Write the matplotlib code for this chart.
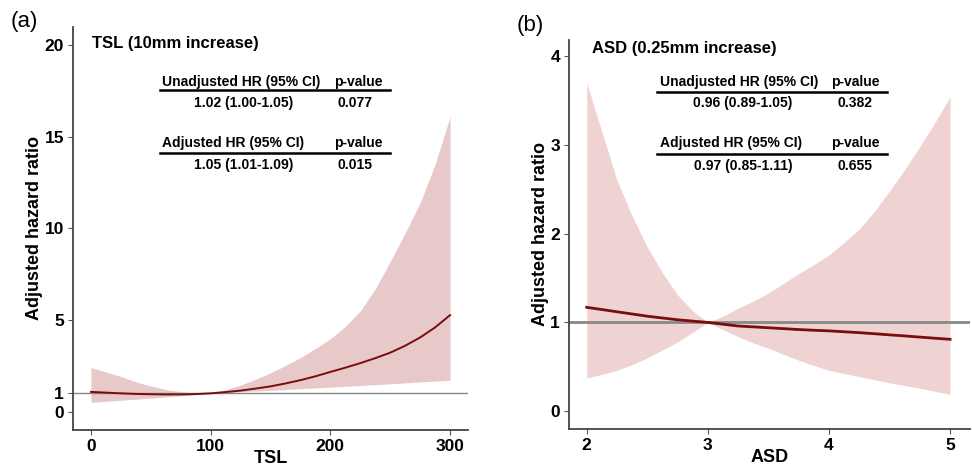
import matplotlib.pyplot as plt
from matplotlib.lines import Line2D

plt.rcParams['font.family'] = ['Liberation Sans', 'DejaVu Sans']

# TSL spline: hazard ratio and 95% CI
tsl_x = [0, 12.5, 25, 37.5, 50, 62.5, 75, 87.5, 100, 112.5, 125, 137.5, 150,
         162.5, 175, 187.5, 200, 212.5, 225, 237.5, 250, 262.5, 275, 287.5, 300]
tsl_hr = [1.08, 1.04, 1.0, 0.97, 0.95, 0.94, 0.94, 0.96, 1.0, 1.07, 1.15, 1.26, 1.38,
          1.54, 1.72, 1.93, 2.17, 2.4, 2.65, 2.92, 3.22, 3.6, 4.05, 4.6, 5.27]
tsl_upper = [2.41, 2.17, 1.92, 1.63, 1.40, 1.21, 1.09, 1.02, 1.0, 1.2, 1.45, 1.77, 2.12,
             2.52, 2.95, 3.45, 3.98, 4.65, 5.5, 6.7, 8.2, 9.75, 11.4, 13.5, 16.1]
tsl_lower = [0.51, 0.565, 0.62, 0.68, 0.74, 0.805, 0.87, 0.935, 1.0, 1.045, 1.09, 1.125, 1.16,
             1.205, 1.25, 1.295, 1.34, 1.385, 1.43, 1.475, 1.52, 1.57, 1.62, 1.67, 1.72]

# ASD spline: hazard ratio and 95% CI
asd_x = [2.0, 2.125, 2.25, 2.375, 2.5, 2.625, 2.75, 2.875, 3.0, 3.125, 3.25, 3.375, 3.5,
         3.625, 3.75, 3.875, 4.0, 4.125, 4.25, 4.375, 4.5, 4.625, 4.75, 4.875, 5.0]
asd_hr = [1.17, 1.145, 1.12, 1.095, 1.07, 1.05, 1.03, 1.015, 1.0, 0.98, 0.96, 0.95, 0.94,
          0.93, 0.92, 0.912, 0.905, 0.895, 0.885, 0.873, 0.86, 0.848, 0.835, 0.822, 0.81]
asd_upper = [3.70, 3.15, 2.60, 2.2, 1.85, 1.56, 1.31, 1.13, 1.0, 1.07, 1.16, 1.24, 1.33,
             1.44, 1.55, 1.65, 1.76, 1.9, 2.05, 2.25, 2.48, 2.72, 2.98, 3.25, 3.54]
asd_lower = [0.375, 0.415, 0.46, 0.525, 0.60, 0.69, 0.78, 0.89, 1.0, 0.92, 0.84, 0.77, 0.71,
             0.64, 0.575, 0.515, 0.46, 0.425, 0.39, 0.355, 0.32, 0.29, 0.26, 0.225, 0.19]

tsl_yticks = [0, 1, 5, 10, 15, 20]
asd_yticks = [0, 1, 2, 3, 4]

tsl_table = [("Unadjusted HR (95% CI)", "1.02 (1.00-1.05)", "0.077"),
             ("Adjusted HR (95% CI)", "1.05 (1.01-1.09)", "0.015")]
asd_table = [("Unadjusted HR (95% CI)", "0.96 (0.89-1.05)", "0.382"),
             ("Adjusted HR (95% CI)", "0.97 (0.85-1.11)", "0.655")]

fig = plt.figure(figsize=(9.72, 4.65), dpi=100)
ax1 = fig.add_axes([0.0751, 0.0753, 0.4064, 0.8667])
ax2 = fig.add_axes([0.5854, 0.0774, 0.4126, 0.8366])


def style_axis(ax):
    for side in ['top', 'right']:
        ax.spines[side].set_visible(False)
    for side in ['left', 'bottom']:
        ax.spines[side].set_color('#444444')
        ax.spines[side].set_linewidth(1.3)
    ax.tick_params(length=3.5, width=0.8, color='#555555', labelsize=12.5, pad=3)
    for lab in ax.get_xticklabels() + ax.get_yticklabels():
        lab.set_fontweight('bold')


def draw_table(ax, rows, title, title_xy, hx, px, lx, vx, pvx, ys):
    ax.text(title_xy[0], title_xy[1], title, transform=ax.transAxes,
            fontsize=12, fontweight='bold', va='center', ha='left')
    for (head, val, p), (yh, yl, yv) in zip(rows, ys):
        ax.text(hx, yh, head, transform=ax.transAxes, fontsize=10,
                fontweight='bold', va='center', ha='left')
        ax.text(px, yh, "p-value", transform=ax.transAxes, fontsize=10,
                fontweight='bold', va='center', ha='left')
        ax.add_line(Line2D(lx, [yl, yl], transform=ax.transAxes, color='black',
                           linewidth=1.8, clip_on=False))
        ax.text(vx, yv, val, transform=ax.transAxes, fontsize=10,
                fontweight='bold', va='center', ha='center')
        ax.text(pvx, yv, p, transform=ax.transAxes, fontsize=10,
                fontweight='bold', va='center', ha='center')


# (a) TSL
ax1.fill_between(tsl_x, tsl_lower, tsl_upper, color='#e8c9ca', linewidth=0)
ax1.axhline(1, color='#888888', linewidth=1.0)
ax1.plot(tsl_x, tsl_hr, color='#7a0c0c', linewidth=1.4)
ax1.set_xlim(-15, 315)
ax1.set_ylim(-1, 21)
ax1.set_xticks([0, 100, 200, 300])
ax1.set_yticks(tsl_yticks)
style_axis(ax1)
ax1.set_xlabel("TSL", fontsize=13, fontweight='bold', labelpad=-3)
ax1.set_ylabel("Adjusted hazard ratio", fontsize=13, fontweight='bold', labelpad=1)
draw_table(ax1, tsl_table, "TSL (10mm increase)", (0.048, 0.958),
           0.225, 0.661, [0.220, 0.8025], 0.432, 0.714,
           [(0.8635, 0.8437, 0.811), (0.712, 0.687, 0.657)])

# (b) ASD
ax2.fill_between(asd_x, asd_lower, asd_upper, color='#efd3d2', linewidth=0)
ax2.axhline(1, color='#888888', linewidth=2.0)
ax2.plot(asd_x, asd_hr, color='#7a0c0c', linewidth=2.0)
ax2.set_xlim(1.854, 5.165)
ax2.set_ylim(-0.2, 4.18)
ax2.set_xticks([2, 3, 4, 5])
ax2.set_yticks(asd_yticks)
style_axis(ax2)
ax2.set_xlabel("ASD", fontsize=13, fontweight='bold', labelpad=-3)
ax2.set_ylabel("Adjusted hazard ratio", fontsize=13, fontweight='bold', labelpad=1)
draw_table(ax2, asd_table, "ASD (0.25mm increase)", (0.0566, 0.979),
           0.227, 0.6526, [0.2195, 0.793], 0.4335, 0.714,
           [(0.892, 0.866, 0.838), (0.735, 0.707, 0.676)])

fig.text(0.011, 0.953, "(a)", fontsize=16, va='center', ha='left')
fig.text(0.532, 0.946, "(b)", fontsize=16, va='center', ha='left')

fig.savefig("out.png", dpi=100)
